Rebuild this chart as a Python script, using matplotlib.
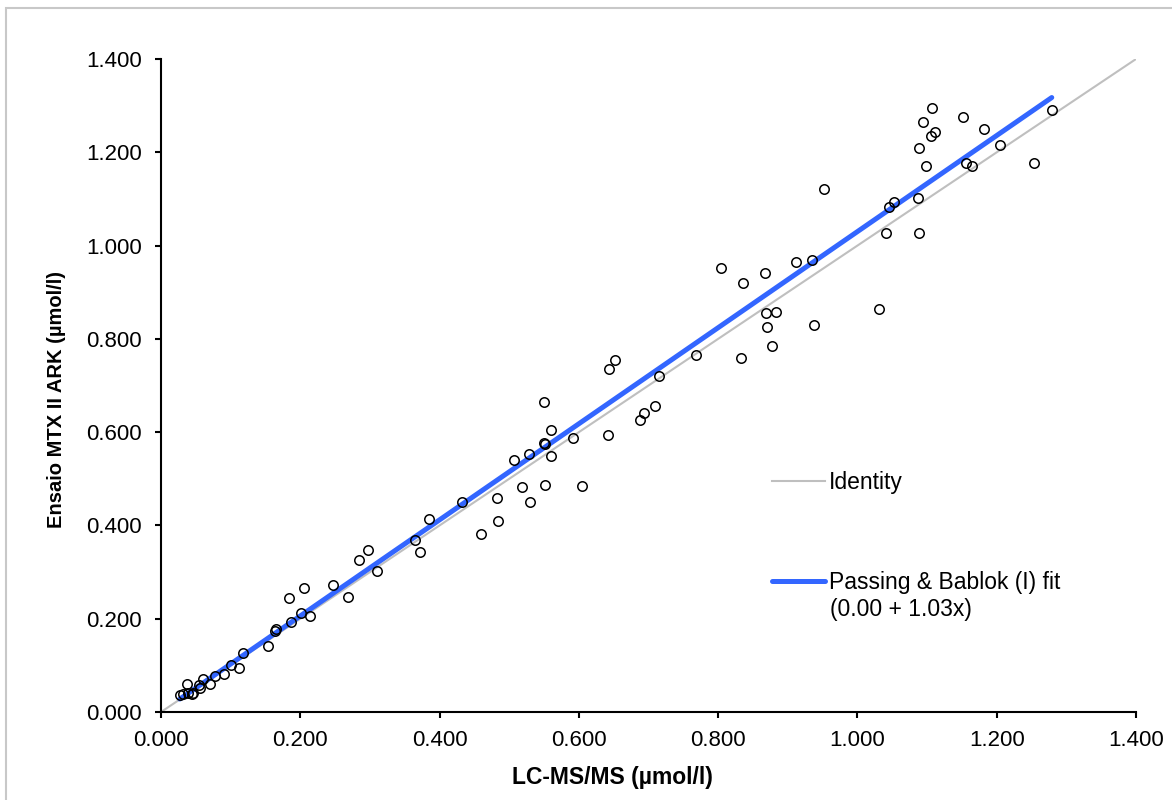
import matplotlib.pyplot as plt
import matplotlib.patches as patches
from matplotlib.lines import Line2D
from matplotlib.ticker import FormatStrFormatter
import numpy as np

plt.rcParams['font.family'] = ['Liberation Sans', 'DejaVu Sans']

# LC-MS/MS (x) vs MTX II ARK assay (y), umol/l
lcms = [0.027, 0.032, 0.037, 0.039, 0.044, 0.046, 0.055, 0.056, 0.060, 0.071,
        0.078, 0.090, 0.101, 0.112, 0.117, 0.154, 0.163, 0.165, 0.186, 0.184,
        0.201, 0.205, 0.214, 0.247, 0.269, 0.284, 0.297, 0.310,
        0.365, 0.372, 0.385, 0.432, 0.459, 0.482, 0.484, 0.507, 0.519, 0.528,
        0.530, 0.550, 0.550, 0.552, 0.552, 0.560, 0.560, 0.592, 0.605, 0.642,
        0.643, 0.652, 0.688, 0.693, 0.709, 0.715, 0.768,
        0.804, 0.836, 0.867, 0.912, 0.935, 0.869, 0.883, 0.870, 0.937, 0.878,
        0.833, 1.031, 0.952,
        1.107, 1.094, 1.111, 1.106, 1.152, 1.181, 1.089, 1.205, 1.098, 1.156,
        1.165, 1.254, 1.279, 1.087, 1.053, 1.046, 1.041, 1.089]
ark = [0.036, 0.038, 0.061, 0.040, 0.039, 0.041, 0.058, 0.051, 0.070, 0.061,
       0.078, 0.081, 0.101, 0.094, 0.126, 0.141, 0.174, 0.179, 0.192, 0.245,
       0.212, 0.266, 0.205, 0.272, 0.247, 0.325, 0.347, 0.302,
       0.369, 0.343, 0.413, 0.450, 0.381, 0.459, 0.410, 0.540, 0.482, 0.553,
       0.450, 0.664, 0.576, 0.575, 0.487, 0.604, 0.548, 0.587, 0.485, 0.594,
       0.735, 0.755, 0.625, 0.640, 0.656, 0.720, 0.765,
       0.952, 0.919, 0.941, 0.964, 0.968, 0.855, 0.858, 0.825, 0.830, 0.785,
       0.758, 0.864, 1.121,
       1.296, 1.264, 1.244, 1.234, 1.276, 1.249, 1.210, 1.216, 1.170, 1.178,
       1.171, 1.178, 1.290, 1.101, 1.094, 1.082, 1.026, 1.028]

intercept = 0.00
slope = 1.03
identity = [0.0, 1.4]

fig = plt.figure(figsize=(11.72, 8), dpi=100)
ax = fig.add_axes([0.1374, 0.11, 0.8319, 0.81625])

# light grey frame around the figure
fig.patches.append(patches.Rectangle((0.005, -0.02), 1.1, 1.01, transform=fig.transFigure,
                                     fill=False, edgecolor='#C8C8C8', linewidth=1.5))

ax.plot(identity, identity, color='#BFBFBF', lw=1.5, zorder=1)
xfit = np.array([min(lcms), max(lcms)])
ax.plot(xfit, intercept + slope * xfit, color='#3366FF', lw=3.6, solid_capstyle='round', zorder=2)
ax.plot(lcms, ark, 'o', mfc='none', mec='black', ms=6.8, mew=1.1, zorder=3)

ax.set_xlim(0, 1.4)
ax.set_ylim(0, 1.4)
ax.set_xticks(np.arange(0, 1.41, 0.2))
ax.set_yticks(np.arange(0, 1.41, 0.2))
ax.xaxis.set_major_formatter(FormatStrFormatter('%.3f'))
ax.yaxis.set_major_formatter(FormatStrFormatter('%.3f'))
ax.tick_params(labelsize=16, length=4, width=1.5, direction='out')
ax.tick_params(axis='x', pad=9)
ax.tick_params(axis='y', pad=10)
for s in ['top', 'right']:
    ax.spines[s].set_visible(False)
for s in ['left', 'bottom']:
    ax.spines[s].set_linewidth(1.5)

ax.set_xlabel('LC-MS/MS (µmol/l)', fontsize=16.5, fontweight='bold')
ax.xaxis.set_label_coords(0.4626, -0.082)
ax.set_ylabel('Ensaio MTX II ARK (µmol/l)', fontsize=14.5, fontweight='bold')
ax.yaxis.set_label_coords(-0.097, 0.478)

h1 = Line2D([], [], color='#BFBFBF', lw=1.5)
leg1 = ax.legend([h1], ['Identity'], loc='center left', bbox_to_anchor=(0.6267, 0.352),
                 frameon=False, fontsize=16.5, handlelength=2.3, handletextpad=0.2,
                 borderpad=0, borderaxespad=0)
ax.add_artist(leg1)
h2 = Line2D([], [], color='#3366FF', lw=3.6, solid_capstyle='round')
ax.legend([h2], ['Passing & Bablok (I) fit'], loc='center left',
          bbox_to_anchor=(0.6267, 0.199), frameon=False, fontsize=16.5,
          handlelength=2.3, handletextpad=0.2, borderpad=0, borderaxespad=0)
ax.text(0.686, 0.157, f'({intercept:.2f} + {slope:.2f}x)', transform=ax.transAxes,
        fontsize=16.5, va='center', ha='left')

fig.savefig('out.png', dpi=100)
